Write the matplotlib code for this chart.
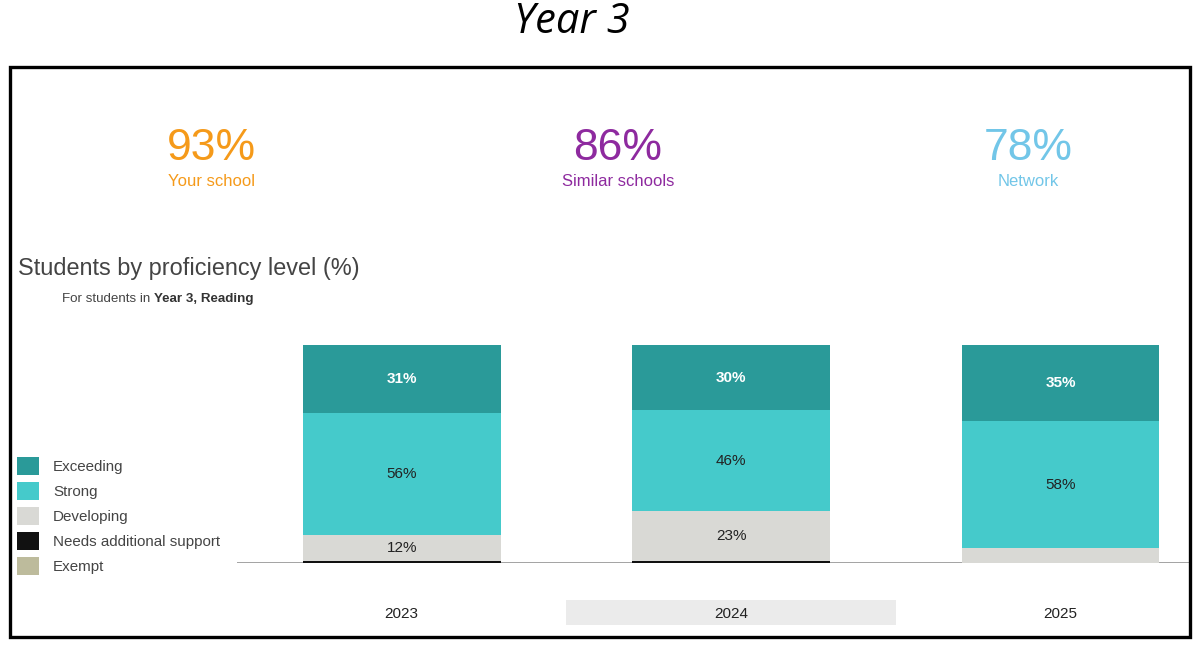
import numpy as np
import matplotlib.pyplot as plt
from matplotlib.patches import Rectangle, Patch
from matplotlib.transforms import blended_transform_factory

plt.rcParams['font.family'] = ['Liberation Sans', 'DejaVu Sans']

years = ['2023', '2024', '2025']
levels = ['Exceeding', 'Strong', 'Developing', 'Needs additional support', 'Exempt']
level_colors = ['#2a9a99', '#45cacb', '#d9d9d5', '#111111', '#bdbb9c']
# stacked from the bottom: exempt, needs support, developing, strong, exceeding
exempt = [0, 0, 0]
needs_support = [1, 1, 0]
developing = [12, 23, 7]
strong = [56, 46, 58]
exceeding = [31, 30, 35]

headline_values = ['93%', '86%', '78%']
headline_labels = ['Your school', 'Similar schools', 'Network']
headline_colors = ['#f59a1a', '#8e2a9f', '#72c6e8']
headline_x = [211, 618, 1028]

W, H = 1200, 655
fig = plt.figure(figsize=(12, 6.55), dpi=100)

# outer frame
fig.patches.append(Rectangle((10 / W, 1 - 637 / H), 1180 / W, 570 / H, transform=fig.transFigure,
                             fill=False, edgecolor='black', linewidth=2.4))

fig.text(572 / W, 1 - 22 / H, 'Year 3', family=['Open Sans', 'DejaVu Sans'], style='italic',
         fontsize=30, ha='center', va='center', color='black')

for v, lab, c, x in zip(headline_values, headline_labels, headline_colors, headline_x):
    fig.text(x / W, 1 - 148 / H, v, fontsize=32, color=c, ha='center', va='center')
    fig.text(x / W, 1 - 182 / H, lab, fontsize=12, color=c, ha='center', va='center')

fig.text(18 / W, 1 - 268 / H, 'Students by proficiency level (%)', fontsize=16.9, color='#444444',
         ha='left', va='center')
t1 = fig.text(62 / W, 1 - 299 / H, 'For students in ', fontsize=9.6, color='#444444', ha='left', va='center')
fig.canvas.draw()
r = fig.canvas.get_renderer()
x_end = t1.get_window_extent(r).x1 / W
fig.text(x_end, 1 - 299 / H, 'Year 3, Reading', fontsize=9.6, color='#333333', weight='bold',
         ha='left', va='center')

ax = fig.add_axes([237 / W, 1 - 563 / H, 952 / W, 218 / H])
x = np.arange(len(years))
width = 0.6
stack = [exempt, needs_support, developing, strong, exceeding]
stack_colors = [level_colors[4], level_colors[3], level_colors[2], level_colors[1], level_colors[0]]
bottom = np.zeros(len(years))
for vals, col in zip(stack, stack_colors):
    vals = np.array(vals, dtype=float)
    ax.bar(x, vals, width, bottom=bottom, color=col, edgecolor='none')
    for xi, v, b in zip(x, vals, bottom):
        if v >= 10:
            tc = 'white' if col == level_colors[0] else '#222222'
            ax.text(xi, b + v / 2, f'{int(v)}%', ha='center', va='center', fontsize=11,
                    color=tc, weight='bold' if col == level_colors[0] else 'normal')
    bottom += vals

ax.axhline(0, color='#9a9a9a', linewidth=2, zorder=0)
ax.set_xlim(-0.5, 2.39)
ax.set_ylim(0, 100)
for s in ax.spines.values():
    s.set_visible(False)
ax.set_yticks([])
ax.set_xticks(x)
ax.set_xticklabels(years, fontsize=11, color='#222222')
ax.tick_params(axis='x', length=0, pad=32)

# highlighted year
trans = blended_transform_factory(ax.transData, ax.transAxes)
ax.add_patch(Rectangle((0.5, -0.284), 1.0, 0.115, transform=trans, clip_on=False,
                       facecolor='#ebebeb', edgecolor='none', zorder=-1))

handles = [Patch(facecolor=c, edgecolor='none') for c in level_colors]
fig.legend(handles, levels, loc='upper left', bbox_to_anchor=(3 / W, 1 - 443 / H), frameon=False,
           fontsize=10.9, labelcolor='#444444', handlelength=1.45, handleheight=1.45,
           labelspacing=0.47, handletextpad=0.95)

fig.savefig('out.png', dpi=100, facecolor='white')
